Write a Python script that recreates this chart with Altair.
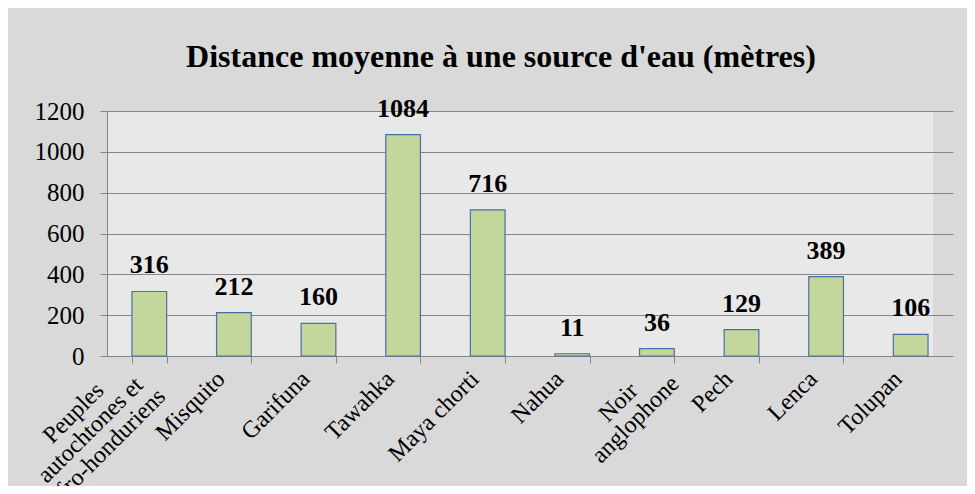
import altair as alt
import pandas as pd

categories = ["Peuples\nautochtones et\nafro-honduriens", "Misquito", "Garifuna", "Tawahka",
              "Maya chorti", "Nahua", "Noir\nanglophone", "Pech", "Lenca", "Tolupan"]
values = [316, 212, 160, 1084, 716, 11, 36, 129, 389, 106]
y_ticks = [0, 200, 400, 600, 800, 1000, 1200]

df = pd.DataFrame({"cat": categories, "val": values})
# offsets of the wrapped labels, in the rotated text frame
multi = pd.DataFrame({"cat": [categories[0], categories[6]],
                      "dx": [-94, -60], "dy": [-13, 6]})

x_axis = alt.Axis(
    labelAngle=-45, labelAlign="right", labelBaseline="middle",
    labelFont="Liberation Serif", labelFontSize=24, labelColor="#000000",
    labelExpr="indexof(datum.label, '\\n') >= 0 ? '' : datum.label",
    labelPadding=12, labelOffset=-13, tickBand="extent", tickSize=7,
    tickColor={"condition": {"test": "datum.value === 'Tolupan'", "value": "transparent"},
               "value": "#868686"},
    domain=False, labelOverlap=False, labelBound=False)

x_enc = alt.X("cat:N", sort=categories, title=None,
              scale=alt.Scale(paddingInner=0.59, paddingOuter=0.295, range=[0, 846]),
              axis=x_axis)
y_enc = alt.Y("val:Q", title=None,
              scale=alt.Scale(domain=[0, 1200], nice=False),
              axis=alt.Axis(values=y_ticks, format="d", labelFont="Liberation Serif",
                            labelFontSize=25, labelColor="#000000", tickSize=7,
                            tickColor="#868686", gridColor="#868686",
                            domainColor="#868686", labelPadding=16))

bars = alt.Chart(df).mark_bar(fill="#c3d69b", stroke="#4a6fa5", strokeWidth=1.2).encode(
    x=x_enc, y=y_enc)

labels = alt.Chart(df).mark_text(font="Liberation Serif", fontSize=26, fontWeight="bold",
                                 baseline="alphabetic", dy=-18, color="#000000").encode(
    x=x_enc, y=y_enc, text="val:Q")

multi_labels = []
for _, r in multi.iterrows():
    multi_labels.append(
        alt.Chart(multi[multi["cat"] == r["cat"]]).mark_text(
            font="Liberation Serif", fontSize=24, color="#000000", angle=315,
            align="center", baseline="middle", lineBreak="\n", lineHeight=24,
            dx=float(r["dx"]), dy=float(r["dy"])).encode(
            x=x_enc, y=alt.value(245), text="cat:N"))

chart = alt.layer(bars, labels, *multi_labels).properties(
    width=826, height=245,
    autosize=alt.AutoSizeParams(type="none"),
    padding={"left": 99, "top": 103, "right": 34, "bottom": 130},
    background="#d9d9d9",
    title=alt.TitleParams("Distance moyenne à une source d'eau (mètres)",
                          font="Liberation Serif", fontSize=32, fontWeight="bold",
                          color="#000000", anchor="middle", offset=22, dx=-19),
).configure_view(fill="#e8e8e8", stroke=None)

chart.save("out.html", embed_options={"renderer": "svg", "actions": False})
